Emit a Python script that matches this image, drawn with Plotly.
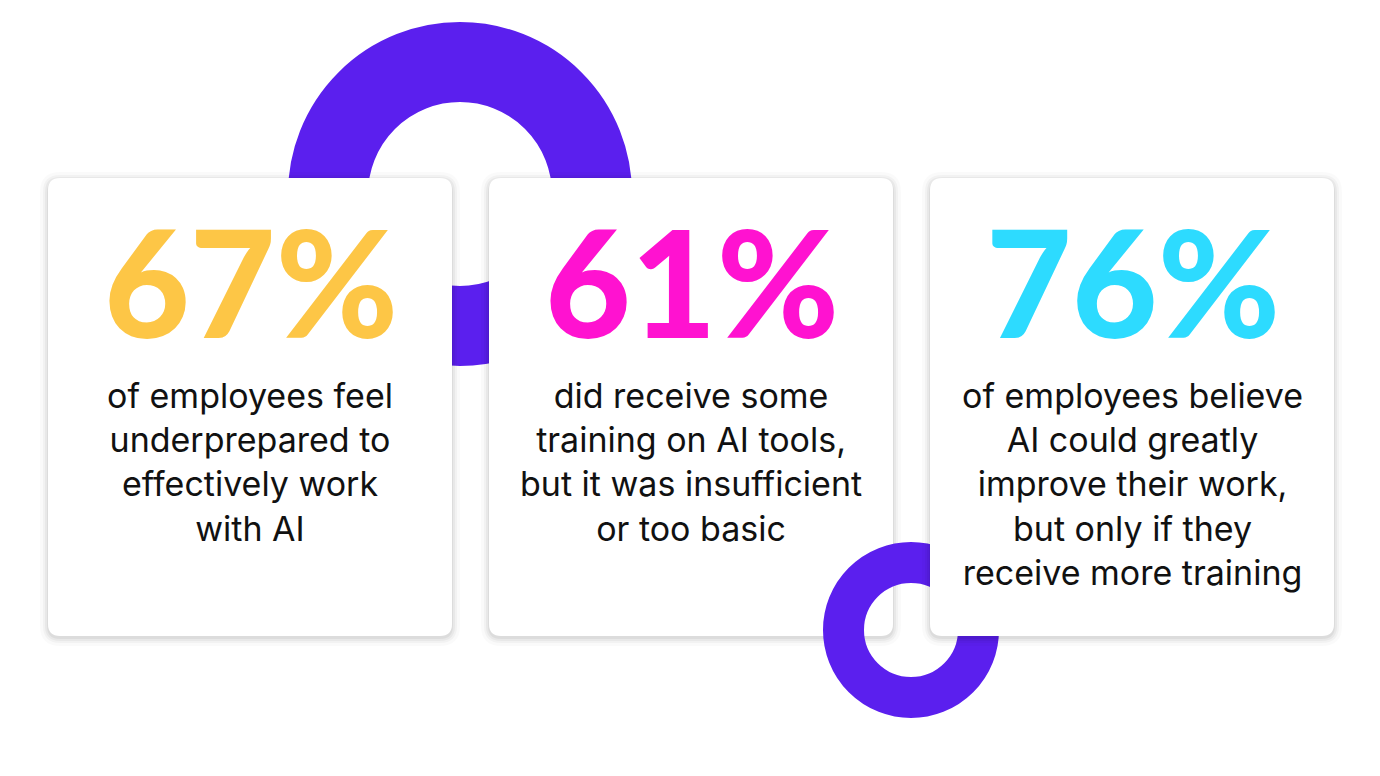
import plotly.graph_objects as go

W, H = 1380, 776
values = ["67%", "61%", "76%"]
colors = ["#FDC646", "#FF12D0", "#2DDBFF"]
texts = [
    "of employees feel<br>underprepared to<br>effectively work<br>with AI",
    "did receive some<br>training on AI tools,<br>but it was insufficient<br>or too basic",
    "of employees believe<br>AI could greatly<br>improve their work,<br>but only if they<br>receive more training",
]
OFF = 8  # page body margin
card_left = [48, 489, 930]
card_w, card_top, card_bot = 404, 178, 636
purple = "#5B1FEE"

def rrect(x0, y0, x1, y1, r):
    x0 -= OFF; x1 -= OFF; y0 -= OFF; y1 -= OFF
    return (f"M{x0+r},{y0} L{x1-r},{y0} Q{x1},{y0} {x1},{y0+r} L{x1},{y1-r} Q{x1},{y1} {x1-r},{y1} "
            f"L{x0+r},{y1} Q{x0},{y1} {x0},{y1-r} L{x0},{y0+r} Q{x0},{y0} {x0+r},{y0} Z")

def ring(cx, cy, ro, ri):
    cx -= OFF; cy -= OFF
    rm, t = (ro + ri) / 2, ro - ri
    return dict(type="circle", xref="x", yref="y", x0=cx-rm, x1=cx+rm, y0=cy-rm, y1=cy+rm,
                line=dict(color=purple, width=t), fillcolor="rgba(0,0,0,0)")

def card(x):
    out = []
    for k, op in [(8, 0.02), (5, 0.03), (3, 0.04), (1, 0.05)]:
        out.append(dict(type="path", xref="x", yref="y",
                        path=rrect(x-k, card_top-k+2, x+card_w+k, card_bot+k+2, 12+k),
                        fillcolor=f"rgba(0,0,0,{op})", line=dict(width=0)))
    out.append(dict(type="path", xref="x", yref="y", path=rrect(x, card_top, x+card_w, card_bot, 12),
                    fillcolor="white", line=dict(width=0)))
    return out

shapes = [ring(460, 194, 172, 92)]
shapes += card(card_left[0]) + card(card_left[1])
shapes.append(ring(911, 630, 88, 47))
shapes += card(card_left[2])

ann = []
for x, v, c, t in zip(card_left, values, colors, texts):
    cx = x + card_w / 2 - OFF
    ann.append(dict(x=cx+1, y=281-OFF, text=v, showarrow=False, xref="x", yref="y",
                    font=dict(family="Lato", size=148, color=c, weight=900), yanchor="middle"))
    ann.append(dict(x=cx, y=373-OFF, text=t, showarrow=False, xref="x", yref="y", yanchor="top",
                    font=dict(family="Inter", size=34, color="#111111"), align="center"))

fig = go.Figure()
fig.update_layout(width=W, height=H, margin=dict(l=0, r=0, t=0, b=0),
                  paper_bgcolor="white", plot_bgcolor="white",
                  xaxis=dict(range=[0, W], visible=False, fixedrange=True),
                  yaxis=dict(range=[H, 0], visible=False, fixedrange=True),
                  shapes=shapes, annotations=ann, showlegend=False)
fig.write_html("out.html", config={"displayModeBar": False})
